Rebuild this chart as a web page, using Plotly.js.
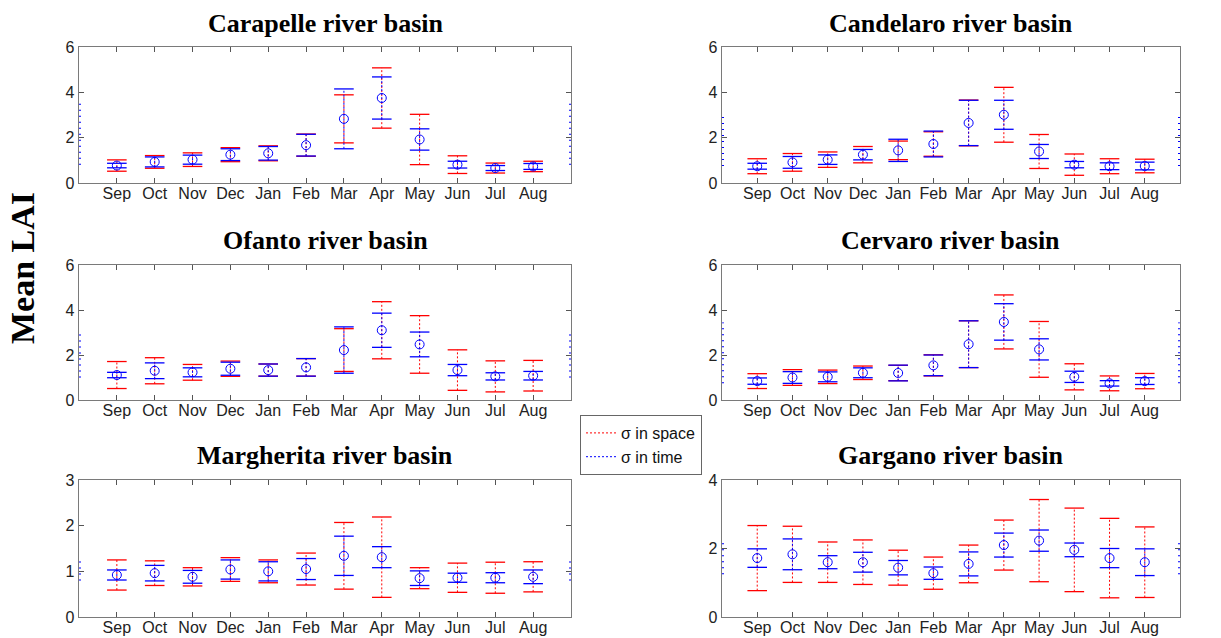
<!DOCTYPE html>
<html>
<head>
<meta charset="utf-8">
<script src="https://cdn.plot.ly/plotly-3.0.1.min.js"></script>
<style>
  html, body { margin: 0; padding: 0; background: #ffffff; }
  #chart { width: 1221px; height: 638px; }
</style>
</head>
<body>
<div id="chart"></div>
<script>
// Month labels of the hydrological year (September to August)
const months = ['Sep', 'Oct', 'Nov', 'Dec', 'Jan', 'Feb', 'Mar', 'Apr', 'May', 'Jun', 'Jul', 'Aug'];

const basinTitles = [
  'Carapelle river basin', 'Candelaro river basin',
  'Ofanto river basin', 'Cervaro river basin',
  'Margherita river basin', 'Gargano river basin'
];

// Monthly mean LAI, with standard deviation in space and in time
const carapelleMean  = [0.77, 0.93, 1.03, 1.25, 1.31, 1.67, 2.83, 3.75, 1.92, 0.81, 0.66, 0.73];
const carapelleSpace = [0.25, 0.28, 0.30, 0.31, 0.33, 0.49, 1.06, 1.33, 1.11, 0.39, 0.22, 0.23];
const carapelleTime  = [0.10, 0.22, 0.20, 0.26, 0.30, 0.48, 1.32, 0.93, 0.47, 0.15, 0.11, 0.13];

const candelaroMean  = [0.74, 0.91, 1.03, 1.25, 1.44, 1.72, 2.65, 3.01, 1.39, 0.81, 0.74, 0.75];
const candelaroSpace = [0.33, 0.39, 0.34, 0.36, 0.41, 0.54, 1.01, 1.21, 0.75, 0.47, 0.33, 0.30];
const candelaroTime  = [0.13, 0.26, 0.21, 0.23, 0.49, 0.57, 1.00, 0.64, 0.31, 0.14, 0.15, 0.17];

const ofantoMean  = [1.11, 1.30, 1.23, 1.39, 1.33, 1.45, 2.22, 3.10, 2.47, 1.33, 1.05, 1.08];
const ofantoSpace = [0.60, 0.58, 0.35, 0.34, 0.27, 0.39, 0.95, 1.27, 1.28, 0.90, 0.69, 0.68];
const ofantoTime  = [0.12, 0.35, 0.20, 0.29, 0.27, 0.39, 1.03, 0.76, 0.55, 0.25, 0.16, 0.19];

const cervaroMean  = [0.84, 1.00, 1.03, 1.21, 1.20, 1.54, 2.48, 3.47, 2.25, 1.03, 0.74, 0.84];
const cervaroSpace = [0.33, 0.35, 0.30, 0.30, 0.34, 0.47, 1.04, 1.20, 1.24, 0.58, 0.33, 0.34];
const cervaroTime  = [0.14, 0.26, 0.22, 0.22, 0.35, 0.46, 1.04, 0.81, 0.47, 0.25, 0.12, 0.15];

const margheritaMean  = [0.92, 0.96, 0.88, 1.04, 1.00, 1.05, 1.34, 1.31, 0.85, 0.86, 0.86, 0.88];
const margheritaSpace = [0.33, 0.27, 0.20, 0.26, 0.25, 0.35, 0.73, 0.88, 0.23, 0.32, 0.34, 0.33];
const margheritaTime  = [0.11, 0.17, 0.14, 0.21, 0.21, 0.23, 0.43, 0.23, 0.16, 0.10, 0.11, 0.15];

const garganoMean  = [1.72, 1.83, 1.60, 1.60, 1.44, 1.28, 1.55, 2.10, 2.23, 1.96, 1.72, 1.60];
const garganoSpace = [0.95, 0.82, 0.59, 0.65, 0.51, 0.47, 0.55, 0.73, 1.20, 1.22, 1.16, 1.03];
const garganoTime  = [0.27, 0.45, 0.19, 0.29, 0.21, 0.18, 0.35, 0.35, 0.31, 0.20, 0.28, 0.39];

// Spread of the whole year, drawn on the frame edges
const yearLow  = [0.80, 0.75, 1.00, 0.75, 0.80, 1.25];
const yearHigh = [3.70, 3.00, 3.10, 3.45, 1.30, 2.25];

// Upper limit of each panel's y axis and its tick step
const yMax  = [6, 6, 6, 6, 3, 4];
const yStep = [2, 2, 2, 2, 1, 2];

const basins = [
  { mean: carapelleMean,  space: carapelleSpace,  time: carapelleTime },
  { mean: candelaroMean,  space: candelaroSpace,  time: candelaroTime },
  { mean: ofantoMean,     space: ofantoSpace,     time: ofantoTime },
  { mean: cervaroMean,    space: cervaroSpace,    time: cervaroTime },
  { mean: margheritaMean, space: margheritaSpace, time: margheritaTime },
  { mean: garganoMean,    space: garganoSpace,    time: garganoTime }
];

// Panel frames in pixels of the 1221 x 638 page
const W = 1221, H = 638;
const colX = [[79, 571], [722, 1180]];
const rowY = [[47, 183], [265, 400], [480, 617]];
const titleY = [23, 241, 456];

const RED = '#ff0000', BLUE = '#0000ff';
const tickFont = { family: 'Liberation Sans, Arial, sans-serif', size: 16, color: '#222222' };

const data = [];
const layout = {
  width: W, height: H,
  margin: { l: 0, r: 0, t: 0, b: 0 },
  paper_bgcolor: '#ffffff',
  plot_bgcolor: '#ffffff',
  showlegend: true,
  legend: {
    x: 580 / W, y: 1 - 415 / H, xanchor: 'left', yanchor: 'top',
    bgcolor: '#ffffff', bordercolor: '#666666', borderwidth: 1,
    font: { family: 'Liberation Sans, Arial, sans-serif', size: 16, color: '#111111' },
    tracegroupgap: 0
  },
  annotations: []
};

const monthX = months.map((m, i) => i + 1);

// Vertical segments (lo..hi) for every month, separated by gaps
function stems(mean, sd) {
  const xs = [], ys = [];
  mean.forEach((m, i) => { xs.push(i + 1, i + 1, null); ys.push(m - sd[i], m + sd[i], null); });
  return { xs, ys };
}
function caps(mean, sd) {
  const xs = [], ys = [];
  mean.forEach((m, i) => { xs.push(i + 1, i + 1); ys.push(m - sd[i], m + sd[i]); });
  return { xs, ys };
}

basins.forEach((b, k) => {
  const col = k % 2, row = Math.floor(k / 2);
  const sfx = k === 0 ? '' : String(k + 1);
  const xa = 'x' + sfx, ya = 'y' + sfx;

  // Year spread on both frame edges (half hidden by the frame clip)
  data.push({
    type: 'scatter', mode: 'lines', xaxis: xa, yaxis: ya, showlegend: false, hoverinfo: 'skip',
    x: [0, 0, null, 13, 13], y: [yearLow[k], yearHigh[k], null, yearLow[k], yearHigh[k]],
    line: { color: BLUE, width: 4, dash: '1px,5px' }
  });

  // sigma in space (red) and sigma in time (blue): dotted stems plus solid caps
  [[b.space, RED, 'σ in space'], [b.time, BLUE, 'σ in time']].forEach(([sd, color, name]) => {
    const s = stems(b.mean, sd);
    data.push({
      type: 'scatter', mode: 'lines', xaxis: xa, yaxis: ya, name: name,
      showlegend: k === 0, legendgroup: name, hoverinfo: 'skip',
      x: s.xs, y: s.ys, line: { color: color, width: 1, dash: '2px,2px' }
    });
    const c = caps(b.mean, sd);
    data.push({
      type: 'scatter', mode: 'markers', xaxis: xa, yaxis: ya, showlegend: false, legendgroup: name,
      hoverinfo: 'skip', x: c.xs, y: c.ys, cliponaxis: false,
      marker: { symbol: 'line-ew-open', size: 14, color: color, line: { color: color, width: 1.3 } }
    });
  });

  // Monthly means
  data.push({
    type: 'scatter', mode: 'markers', xaxis: xa, yaxis: ya, showlegend: false,
    x: monthX, y: b.mean,
    marker: { symbol: 'circle-open', size: 9, color: BLUE, line: { color: BLUE, width: 1 } }
  });

  const [x0, x1] = colX[col];
  const [yt, yb] = rowY[row];
  layout['xaxis' + sfx] = {
    domain: [x0 / W, x1 / W], anchor: ya, range: [0, 13],
    tickmode: 'array', tickvals: monthX, ticktext: months,
    ticks: 'inside', ticklen: 5, tickcolor: '#555555', tickwidth: 1,
    ticklabelstandoff: -5,
    showline: true, linecolor: '#7a7a7a', linewidth: 1.3, mirror: 'allticks',
    showgrid: false, zeroline: false, tickfont: tickFont, fixedrange: true
  };
  layout['yaxis' + sfx] = {
    domain: [1 - yb / H, 1 - yt / H], anchor: xa, range: [0, yMax[k]],
    tickmode: 'linear', tick0: 0, dtick: yStep[k],
    ticks: 'inside', ticklen: 5, tickcolor: '#555555', tickwidth: 1,
    showline: true, linecolor: '#7a7a7a', linewidth: 1.3, mirror: 'allticks',
    showgrid: false, zeroline: false, tickfont: tickFont, fixedrange: true
  };

  layout.annotations.push({
    xref: 'paper', yref: 'paper', x: (x0 + x1) / 2 / W, y: 1 - titleY[row] / H,
    xanchor: 'center', yanchor: 'middle', showarrow: false,
    text: '<b>' + basinTitles[k] + '</b>',
    font: { family: 'Liberation Serif, Times New Roman, serif', size: 26, color: '#000000' }
  });
});

// Shared y-axis label
layout.annotations.push({
  xref: 'paper', yref: 'paper', x: 22 / W, y: 1 - 268 / H,
  xanchor: 'center', yanchor: 'middle', showarrow: false, textangle: -90,
  text: '<b>Mean LAI</b>',
  font: { family: 'Liberation Serif, Times New Roman, serif', size: 34, color: '#000000' }
});

Plotly.newPlot('chart', data, layout, { staticPlot: true, displayModeBar: false });
</script>
</body>
</html>
